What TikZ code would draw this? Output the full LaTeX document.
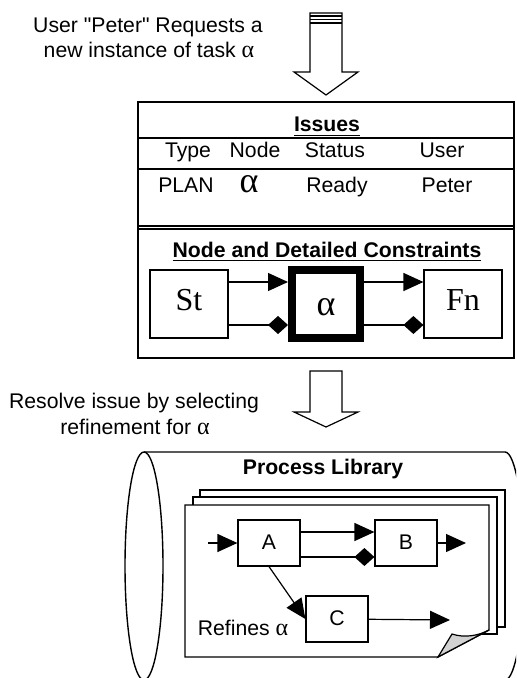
\documentclass[tikz,border=0pt]{standalone}
\usepackage{fontspec}
\setmainfont{Liberation Sans}[Ligatures=TeXOff]
\newfontfamily\timesfont{Liberation Serif}
\newcommand{\galpha}{{\fontsize{12}{12}\timesfont α}}
\usetikzlibrary{arrows.meta}

\tikzset{
	txt/.style={font=\fontsize{10.6}{12.5}\selectfont, inner sep=0pt, anchor=base},
	hdr/.style={inner sep=0pt, anchor=base, font=\fontsize{10.6}{12.5}\selectfont\bfseries},
	big/.style={inner sep=0pt, font=\fontsize{16}{18}\timesfont},
	bigalpha/.style={inner sep=0pt, font=\fontsize{18}{20}\timesfont},
	cell/.style={draw, line width=0.6pt, fill=white, minimum width=39pt, minimum height=34pt, text height=6pt, text depth=0pt, big},
	task/.style={draw, line width=0.6pt, fill=white, minimum width=31pt, minimum height=23pt, text height=6.5pt, text depth=0pt, font=\fontsize{10.6}{12.5}\selectfont},
	seq/.style={-{Triangle[length=10pt,width=9pt]}, line width=0.6pt},
	cons/.style={-{Diamond[length=10pt,width=9pt]}, line width=0.6pt},
	blockarrow/.style={line width=0.6pt, fill=white},
}

\begin{document}
\begin{tikzpicture}[x=0.5pt,y=-0.5pt]
	\useasboundingbox (0,0) rectangle (516,678);
	\clip (0,0) rectangle (516,678);

	% request
	\node[txt] (request) at (148,33) {User "Peter" Requests a};
	\node[txt] (request2) at (149,58) {new instance of task \galpha};
	\draw[blockarrow] (310,13) -- (342,13) -- (342,72) -- (358,72) -- (326,95) -- (294,72) -- (310,72) -- cycle;
	\draw[line width=0.6pt] (310,16) -- (342,16) (310,19.5) -- (342,19.5) (310,23) -- (342,23);

	% issues table
	\draw[line width=0.7pt] (138,102) rectangle (514,358);
	\draw[line width=0.7pt] (138,138) -- (514,138) (138,169) -- (514,169);
	\draw[line width=0.7pt] (138,226) -- (514,226) (138,229) -- (514,229);
	\node[hdr] (issues) at (327,132) {\underline{Issues}};
	\node[txt] (type) at (188,158) {Type};
	\node[txt] (node) at (255,158) {Node};
	\node[txt] (status) at (335,158) {Status};
	\node[txt] (user) at (442,158) {User};
	\node[txt] (plan) at (186,193) {PLAN};
	\node[bigalpha, anchor=base] (task) at (249,193) {α};
	\node[txt] (ready) at (337,193) {Ready};
	\node[txt] (peter) at (447,193) {Peter};

	% node and constraints
	\node[hdr] (constraints) at (327,257) {\underline{Node and Detailed Constraints}};
	\node[cell] (st) at (189,304) {St};
	\node[cell, bigalpha, line width=4pt, minimum width=34pt, text height=11pt] (alpha) at (326,304) {α};
	\node[cell] (fn) at (463,304) {Fn};
	\draw[seq] ([yshift=11pt]st.east) -- ([yshift=11pt]alpha.west);
	\draw[cons] ([yshift=-10.5pt]st.east) -- ([yshift=-10.5pt]alpha.west);
	\draw[seq] ([yshift=11pt]alpha.east) -- ([yshift=11pt]fn.west);
	\draw[cons] ([yshift=-10.5pt]alpha.east) -- ([yshift=-10.5pt]fn.west);

	% resolve
	\draw[blockarrow] (310,371) -- (342,371) -- (342,412) -- (358,412) -- (326,427) -- (294,412) -- (310,412) -- cycle;
	\node[txt] (resolve) at (134,408) {Resolve issue by selecting};
	\node[txt] (resolve2) at (135,434) {refinement for \galpha};

	% process library
	\draw[line width=0.7pt] (144,452) -- (505,452) arc[start angle=90, end angle=-90, x radius=9.5pt, y radius=57pt] -- (144,680);
	\draw[line width=0.7pt] (144,566) ellipse [x radius=9.5pt, y radius=57pt];
	\node[hdr] (library) at (323,474) {Process Library};

	% pages
	\draw[line width=0.7pt, fill=white] (200,490) rectangle (505,627);
	\draw[line width=0.7pt, fill=white] (193,497) rectangle (497,634);
	\draw[line width=0.7pt, fill=white] (185,505) -- (489,505) -- (489,630) -- (438,657) -- (185,657) -- cycle;
	\draw[line width=0.6pt, fill=gray!35] (438,657) -- (452,634) .. controls (464,638) and (478,636) .. (489,630) -- cycle;

	% refinement
	\node[task] (A) at (269,543) {A};
	\node[task] (B) at (406,543) {B};
	\node[task] (C) at (337,619) {C};
	\coordinate (ain) at (208,543);
	\coordinate (bout) at (466,543);
	\coordinate (cout) at (450,620);
	\draw[seq] (ain) -- (A);
	\draw[seq] ([yshift=5.5pt]A.east) -- ([yshift=5.5pt]B.west);
	\draw[cons] ([yshift=-7pt]A.east) -- ([yshift=-7pt]B.west);
	\draw[seq] (B) -- (bout);
	\draw[seq] (A.south) -- (C.west);
	\draw[seq] (C) -- (cout);
	\node[txt] (refines) at (243,635) {Refines \galpha};

\end{tikzpicture}
\end{document}
